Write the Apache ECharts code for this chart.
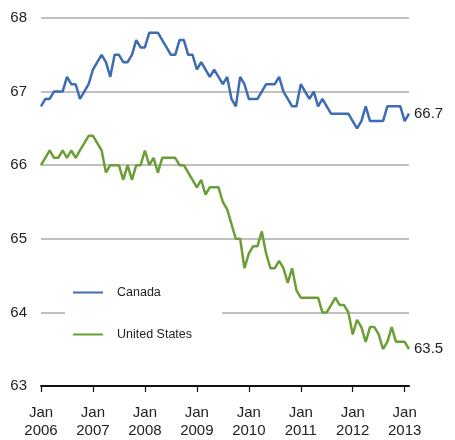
<!DOCTYPE html>
<html>
<head>
<meta charset="utf-8">
<script src="https://cdn.jsdelivr.net/npm/echarts@6/dist/echarts.min.js"></script>
<style>html,body{margin:0;padding:0;background:#fff;}#c{width:455px;height:440px;}</style>
</head>
<body>
<div id="c"></div>
<script>
var years = ['2006','2007','2008','2009','2010','2011','2012','2013'];
var months = ['Jan','Feb','Mar','Apr','May','Jun','Jul','Aug','Sep','Oct','Nov','Dec'];
var lastMonthCount = 2; // data runs through Feb 2013

var canada = [
  66.8,66.9,66.9,67.0,67.0,67.0,67.2,67.1,67.1,66.9,67.0,67.1,
  67.3,67.4,67.5,67.4,67.2,67.5,67.5,67.4,67.4,67.5,67.7,67.6,
  67.6,67.8,67.8,67.8,67.7,67.6,67.5,67.5,67.7,67.7,67.5,67.5,
  67.3,67.4,67.3,67.2,67.3,67.2,67.1,67.2,66.9,66.8,67.2,67.1,
  66.9,66.9,66.9,67.0,67.1,67.1,67.1,67.2,67.0,66.9,66.8,66.8,
  67.1,67.0,66.9,67.0,66.8,66.9,66.8,66.7,66.7,66.7,66.7,66.7,
  66.6,66.5,66.6,66.8,66.6,66.6,66.6,66.6,66.8,66.8,66.8,66.8,
  66.6,66.7
];
var unitedStates = [
  66.0,66.1,66.2,66.1,66.1,66.2,66.1,66.2,66.1,66.2,66.3,66.4,
  66.4,66.3,66.2,65.9,66.0,66.0,66.0,65.8,66.0,65.8,66.0,66.0,
  66.2,66.0,66.1,65.9,66.1,66.1,66.1,66.1,66.0,66.0,65.9,65.8,
  65.7,65.8,65.6,65.7,65.7,65.7,65.5,65.4,65.2,65.0,65.0,64.6,
  64.8,64.9,64.9,65.1,64.8,64.6,64.6,64.7,64.6,64.4,64.6,64.3,
  64.2,64.2,64.2,64.2,64.2,64.0,64.0,64.1,64.2,64.1,64.1,64.0,
  63.7,63.9,63.8,63.6,63.8,63.8,63.7,63.5,63.6,63.8,63.6,63.6,
  63.6,63.5
];

var categories = [];
years.forEach(function (y, yi) {
  var n = (yi === years.length - 1) ? lastMonthCount : 12;
  for (var m = 0; m < n; m++) categories.push(months[m] + '\n' + y);
});

var FONT = 'Liberation Sans';
var chart = echarts.init(document.getElementById('c'));
chart.setOption({
  backgroundColor: '#fff',
  animation: false,
  textStyle: { fontFamily: FONT },
  grid: { left: 41, right: 46, top: 18, bottom: 54, containLabel: false },
  legend: {
    orient: 'vertical',
    left: 65,
    top: 278,
    backgroundColor: '#fff',
    padding: [8, 30, 8, 8],
    itemGap: 29,
    itemWidth: 30,
    itemHeight: 2,
    icon: 'rect',
    textStyle: { fontFamily: FONT, fontSize: 12.5, color: '#222', padding: [0, 0, 0, 9] },
    data: ['Canada', 'United States']
  },
  xAxis: {
    type: 'category',
    data: categories,
    boundaryGap: false,
    axisLine: { show: true, lineStyle: { color: '#111', width: 2 } },
    axisTick: {
      show: true, length: 6, lineStyle: { color: '#111', width: 1.2 },
      interval: function (i) { return i % 12 === 0; }
    },
    axisLabel: {
      interval: function (i) { return i % 12 === 0; },
      fontFamily: FONT, fontSize: 15, color: '#222', lineHeight: 18, margin: 18
    },
    splitLine: { show: false }
  },
  yAxis: {
    type: 'value',
    min: 63, max: 68, interval: 1,
    axisLine: { show: false },
    axisTick: { show: false },
    axisLabel: { fontFamily: FONT, fontSize: 15, color: '#222', margin: 14, align: 'right' },
    splitLine: { show: true, lineStyle: { color: '#ababab', width: 1.5 } }
  },
  series: [
    {
      name: 'Canada', type: 'line', data: canada,
      showSymbol: false, symbol: 'none',
      lineStyle: { color: '#3d6cb3', width: 2.5 },
      itemStyle: { color: '#3d6cb3' },
      endLabel: {
        show: true, distance: 5, fontFamily: FONT, fontSize: 15, color: '#222',
        formatter: function (p) { return p.value.toFixed(1); }
      }
    },
    {
      name: 'United States', type: 'line', data: unitedStates,
      showSymbol: false, symbol: 'none',
      lineStyle: { color: '#6b9e34', width: 2.5 },
      itemStyle: { color: '#6b9e34' },
      endLabel: {
        show: true, distance: 5, fontFamily: FONT, fontSize: 15, color: '#222',
        formatter: function (p) { return p.value.toFixed(1); }
      }
    }
  ]
});
</script>
</body>
</html>
